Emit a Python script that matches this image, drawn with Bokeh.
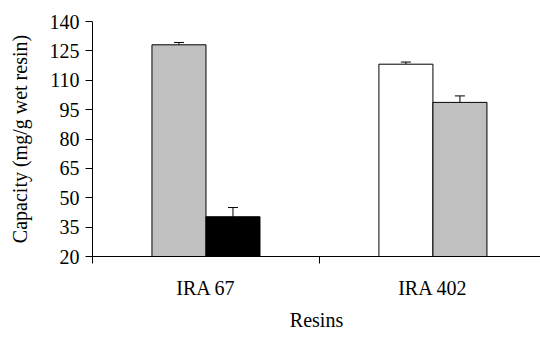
from bokeh.plotting import figure
from bokeh.models import Range1d, FixedTicker, ColumnDataSource, Whisker, TeeHead, Title
from bokeh.embed import file_html
from bokeh.resources import INLINE

# ---- data ----
resins = ["IRA 67", "IRA 402"]
series_names = ["white", "grey", "black"]
white_vals = [None, 118.2]
white_err = [None, 1.1]
grey_vals = [128.1, 98.7]
grey_err = [1.2, 3.3]
black_vals = [40.3, None]
black_err = [4.7, None]
y_ticks = [20, 35, 50, 65, 80, 95, 110, 125, 140]
x_title = "Resins"
y_title = "Capacity (mg/g wet resin)"

series_vals = [white_vals, grey_vals, black_vals]
series_errs = [white_err, grey_err, black_err]
series_colors = ["#FFFFFF", "#C0C0C0", "#000000"]

BAR_W = 0.238
FONT = "Liberation Serif"

xs, tops, colors, uppers, lowers = [], [], [], [], []
for i, r in enumerate(resins):
    present = [j for j in range(len(series_vals)) if series_vals[j][i] is not None]
    n = len(present)
    for k, j in enumerate(present):
        x = i + 0.5 + (k - (n - 1) / 2) * BAR_W
        v = series_vals[j][i]
        e = series_errs[j][i]
        xs.append(x)
        tops.append(v)
        colors.append(series_colors[j])
        uppers.append(v + e)
        lowers.append(v - e)

src = ColumnDataSource(dict(x=xs, top=tops, color=colors, upper=uppers, lower=lowers))

p = figure(width=540, height=337, output_backend="svg", toolbar_location=None,
           x_range=Range1d(0, 1.974), y_range=Range1d(20, 140),
           min_border_left=92, min_border_right=0, min_border_top=21, min_border_bottom=81)
p.outline_line_color = None
p.xgrid.visible = False
p.ygrid.visible = False

p.vbar(x="x", top="top", bottom=20, width=BAR_W, fill_color="color",
       line_color="#000000", line_width=1, source=src)

p.add_layout(Whisker(base="x", upper="upper", lower="lower", source=src,
                     line_color="#000000", line_width=1,
                     upper_head=TeeHead(size=10, line_color="#000000", line_width=1),
                     lower_head=TeeHead(size=10, line_color="#000000", line_width=1)))

# y axis
p.yaxis.ticker = FixedTicker(ticks=y_ticks)
p.yaxis.major_tick_in = 0
p.yaxis.major_tick_out = 7
p.yaxis.axis_label = y_title

# x axis
p.xaxis.ticker = FixedTicker(ticks=[0.5, 1.5], minor_ticks=[0, 1, 2])
p.xaxis.major_label_overrides = {0.5: resins[0], 1.5: resins[1]}
p.xaxis.major_tick_in = 0
p.xaxis.major_tick_out = 0
p.xaxis.minor_tick_in = 0
p.xaxis.minor_tick_out = 7

for ax in (p.xaxis, p.yaxis):
    ax.axis_line_color = "#000000"
    ax.major_tick_line_color = "#000000"
    ax.minor_tick_line_color = "#000000"
    ax.major_label_text_font = FONT
    ax.major_label_text_font_size = "20px"
    ax.major_label_text_color = "#000000"
    ax.axis_label_text_font = FONT
    ax.axis_label_text_font_size = "20px"
    ax.axis_label_text_font_style = "normal"
    ax.axis_label_text_color = "#000000"

p.yaxis.minor_tick_line_color = None
p.xaxis.major_label_standoff = 13
p.yaxis.major_label_standoff = 6
p.yaxis.axis_label_standoff = 16

# x-axis title, below the tick labels
p.add_layout(Title(text=x_title, align="center", offset=4, standoff=11,
                   vertical_align="bottom", text_line_height=0.7,
                   text_font=FONT, text_font_size="20px", text_color="#000000",
                   text_font_style="normal"), "below")

open("out.html", "w").write(file_html(p, INLINE))
